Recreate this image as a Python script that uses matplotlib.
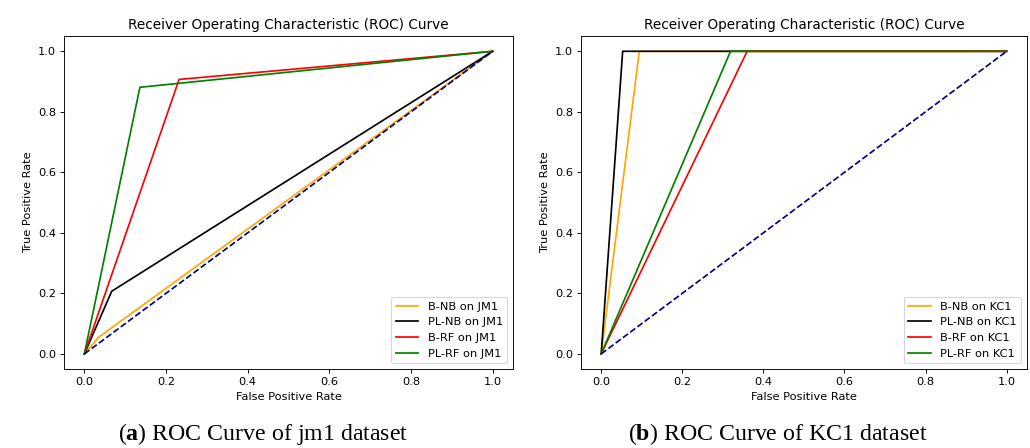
import numpy as np
import matplotlib
matplotlib.use("Agg")
import matplotlib.pyplot as plt

# ROC points (fpr, tpr)
labels = ["B-NB", "PL-NB", "B-RF", "PL-RF"]
colors = ["orange", "black", "red", "green"]

jm1_fpr = [[0, 0.035, 1], [0, 0.067, 1], [0, 0.232, 1], [0, 0.136, 1]]
jm1_tpr = [[0, 0.055, 1], [0, 0.207, 1], [0, 0.907, 1], [0, 0.881, 1]]

kc1_fpr = [[0, 0.094, 1], [0, 0.053, 1], [0, 0.360, 1], [0, 0.319, 1]]
kc1_tpr = [[0, 1.0, 1], [0, 1.0, 1], [0, 1.0, 1], [0, 1.0, 1]]

captions = [("a", "ROC Curve of jm1 dataset"), ("b", "ROC Curve of KC1 dataset")]

plt.rcParams['mathtext.fontset'] = 'custom'
plt.rcParams['mathtext.rm'] = 'Liberation Serif'
plt.rcParams['mathtext.bf'] = 'Liberation Serif:bold'

fig = plt.figure(figsize=(1030/82, 448/82), dpi=82)
ax1 = fig.add_axes([0.0621, 0.1763, 0.436, 0.743])
ax2 = fig.add_axes([0.564, 0.1763, 0.433, 0.743])


def roc_panel(ax, fprs, tprs, name):
    for f, t, lab, c in zip(fprs, tprs, labels, colors):
        ax.plot(f, t, color=c, label=lab + " on " + name)
    ax.plot([0, 1], [0, 1], color='navy', linestyle='--')
    ax.set_xlabel("False Positive Rate")
    ax.set_ylabel("True Positive Rate")
    ax.set_title("Receiver Operating Characteristic (ROC) Curve")
    ax.legend(loc="lower right")


roc_panel(ax1, jm1_fpr, jm1_tpr, "JM1")
roc_panel(ax2, kc1_fpr, kc1_tpr, "KC1")

'sub-figure captions'
for xc, (letter, txt) in zip([263 / 1030, 778 / 1030], captions):
    fig.text(xc, 0.018, r"($\mathbf{" + letter + r"}$) " + txt,
             ha='center', va='baseline', fontsize=21, family='Liberation Serif')

fig.savefig("out.png", dpi=82)
